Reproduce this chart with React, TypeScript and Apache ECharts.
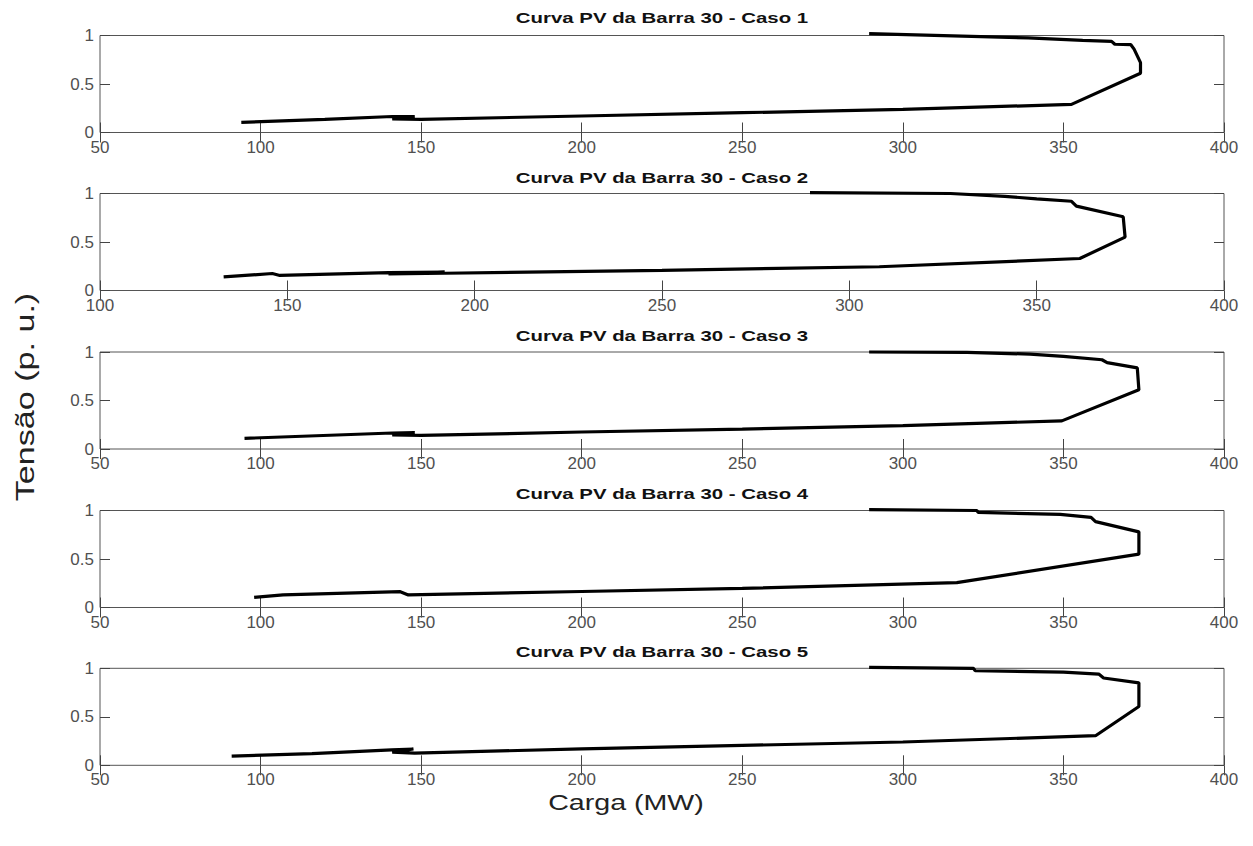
import React, { useEffect, useRef } from "react";
import * as echarts from "echarts";

// PV curves (Carga MW, Tensão p.u.)
const caso1: number[][] = [
  [289.5, 1.02], [339, 0.975], [356, 0.95], [365, 0.94], [366, 0.91], [371, 0.905], [372, 0.86],
  [374, 0.72], [374, 0.61], [352.5, 0.29], [300, 0.238], [250, 0.204], [200, 0.17], [150, 0.136],
  [141, 0.14], [148, 0.165], [141, 0.165], [120, 0.135], [94, 0.105],
];
const caso2: number[][] = [
  [289.5, 1.01], [327, 1.0], [341.5, 0.97], [350, 0.945], [359.3, 0.92], [360.6, 0.87], [373.1, 0.76],
  [373.6, 0.55], [361.5, 0.33], [308, 0.245], [250, 0.207], [192, 0.178], [177, 0.17], [192, 0.19],
  [177, 0.185], [148, 0.155], [146, 0.175], [133, 0.14],
];
const caso3: number[][] = [
  [289.5, 1.0], [320, 0.997], [339.6, 0.978], [350, 0.955], [362, 0.92], [363.6, 0.89], [373, 0.836],
  [373.5, 0.61], [349.5, 0.29], [300, 0.24], [250, 0.205], [200, 0.175], [150, 0.14], [141, 0.145],
  [148, 0.17], [141, 0.165], [95, 0.11],
];
const caso4: number[][] = [
  [289.5, 1.01], [323, 1.0], [323.5, 0.98], [349, 0.96], [358.6, 0.93], [360, 0.885], [373.5, 0.78],
  [373.5, 0.55], [316.8, 0.256], [250, 0.197], [200, 0.165], [146, 0.13], [143.5, 0.163], [107, 0.13],
  [98, 0.105],
];
const caso5: number[][] = [
  [289.5, 1.01], [322, 1.0], [322.5, 0.975], [350, 0.96], [361, 0.94], [362.5, 0.9], [373.5, 0.85],
  [373.5, 0.606], [360, 0.305], [300, 0.24], [250, 0.205], [200, 0.17], [148, 0.125], [141, 0.135],
  [147.6, 0.168], [140.8, 0.16], [116, 0.12], [91, 0.095],
];
const casos = [caso1, caso2, caso3, caso4, caso5];
const titles = [
  "Curva PV da Barra 30 - Caso 1",
  "Curva PV da Barra 30 - Caso 2",
  "Curva PV da Barra 30 - Caso 3",
  "Curva PV da Barra 30 - Caso 4",
  "Curva PV da Barra 30 - Caso 5",
];
const xMins = [50, 100, 50, 50, 50];
const xMax = 400;
const xStep = 50;
const yMin = 0;
const yMax = 1;
const yStep = 0.5;
const xName = "Carga (MW)";
const yName = "Tensão (p. u.)";

const FONT = "'Liberation Sans', Arial, sans-serif";
const tops = [35.5, 193.5, 352, 510.5, 668.3];
const titleY = [18, 178, 336, 494, 652];

export default function App() {
  const ref = useRef<HTMLDivElement>(null);
  useEffect(() => {
    if (!ref.current) return;
    const chart = echarts.init(ref.current, undefined, { renderer: "svg" });
    const grid: any[] = [];
    const xAxis: any[] = [];
    const yAxis: any[] = [];
    const series: any[] = [];
    const axisCol = "#444";
    const labelCol = "#505050";
    casos.forEach((data, i) => {
      grid.push({
        left: 100, top: tops[i], width: 1124, height: 97,
        show: true, borderColor: "#555", borderWidth: 1, backgroundColor: "transparent",
      });
      const baseX = {
        gridIndex: i, type: "value", min: xMins[i], max: xMax, interval: xStep,
        axisLine: { show: false }, splitLine: { show: false },
        axisTick: { inside: true, length: 10, lineStyle: { color: axisCol, width: 1 } },
      };
      xAxis.push({
        ...baseX, position: "bottom",
        axisLabel: { color: labelCol, fontSize: 17, margin: 6, fontFamily: FONT },
      });
      xAxis.push({ ...baseX, position: "top", axisLabel: { show: false } });
      const baseY = {
        gridIndex: i, type: "value", min: yMin, max: yMax, interval: yStep,
        axisLine: { show: false }, splitLine: { show: false },
        axisTick: { inside: true, length: 10, lineStyle: { color: axisCol, width: 1 } },
      };
      yAxis.push({
        ...baseY, position: "left",
        axisLabel: { color: labelCol, fontSize: 17, margin: 6, fontFamily: FONT },
      });
      yAxis.push({ ...baseY, position: "right", axisLabel: { show: false } });
      series.push({
        type: "line", xAxisIndex: 2 * i, yAxisIndex: 2 * i, data,
        showSymbol: false, symbol: "none", clip: false, silent: true,
        lineStyle: { color: "#000", width: 3.2 }, itemStyle: { color: "#000" },
      });
    });
    const graphic: any[] = titles.map((t, i) => ({
      type: "text", x: 662, y: titleY[i], scaleX: 1.36,
      style: {
        text: t, align: "center", verticalAlign: "middle",
        font: `bold 15px ${FONT}`, fill: "#111",
      },
    }));
    graphic.push({
      type: "text", x: 626, y: 802, scaleX: 1.3,
      style: { text: xName, align: "center", verticalAlign: "middle", font: `22px ${FONT}`, fill: "#222" },
    });
    graphic.push({
      type: "text", x: 25, y: 397, rotation: Math.PI / 2, scaleX: 1.55, scaleY: 1.15,
      style: { text: yName, align: "center", verticalAlign: "middle", font: `22px ${FONT}`, fill: "#222" },
    });
    chart.setOption({ animation: false, backgroundColor: "#fff", grid, xAxis, yAxis, series, graphic });
    return () => chart.dispose();
  }, []);
  return (
    <div
      ref={ref}
      style={{ position: "fixed", left: 0, top: 0, width: 1253, height: 846, background: "#fff" }}
    />
  );
}
